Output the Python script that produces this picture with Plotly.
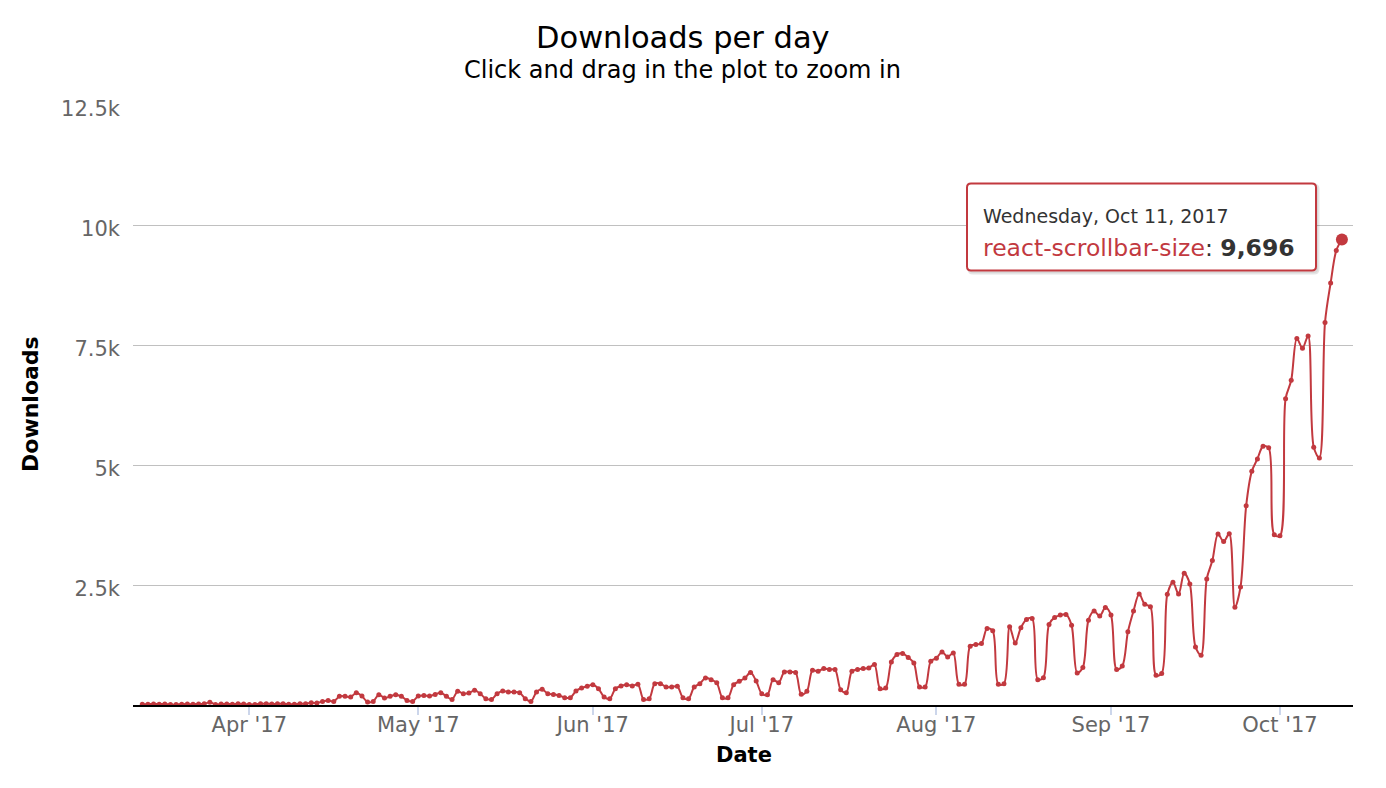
import pandas as pd
import plotly.graph_objects as go

# ---------------- data ----------------
start_date = "2017-03-13"
downloads = [
    15, 18, 20, 17, 22, 10, 8, 18, 20, 16, 22, 25, 55, 12, 20, 22, 18, 25, 20, 10,
    12, 25, 28, 20, 24, 26, 14, 15, 25,
    25, 48, 40, 75, 96, 75,
    180, 180, 165, 257, 186, 61, 75,
    215, 144, 180, 215, 180, 96, 75,
    186, 200, 186, 221, 257, 180, 117,
    284, 236, 250, 305, 236, 131, 117,
    236, 291, 270, 270, 257, 131, 75,
    270, 326, 236, 221, 200, 152, 152,
    291, 354, 389, 424, 340, 165, 131,
    340, 396, 424, 396, 430, 117, 131,
    445, 445, 375, 375, 389, 152, 131,
    375, 445, 565, 528, 462, 152, 152,
    424, 493, 563, 675, 500, 236, 215,
    528, 466, 688, 688, 675, 222, 284,
    723, 702, 759, 738, 738, 320, 257,
    702, 738, 759, 772, 842, 340, 354,
    897, 1051, 1072, 989, 876, 375, 375,
    911, 975, 1106, 1001, 1085, 430, 430,
    1225, 1260, 1281, 1595, 1545, 430, 445,
    1628, 1294, 1608, 1783, 1804, 528, 570,
    1678, 1825, 1873, 1887, 1664, 667, 780,
    1768, 1957, 1852, 2030, 1873, 740, 810,
    1524, 1960, 2312, 2097, 2047, 619, 654,
    2305, 2556, 2312, 2744, 2521, 1210, 1037,
    2625, 3008, 3560, 3405, 3566, 2034, 2460,
    4151, 4868, 5127, 5391, 5357, 3545, 3524,
    6381, 6764, 7636, 7433, 7690, 5370, 5148,
    7970, 8792, 9467, 9696,
]
dates = pd.date_range(start_date, periods=len(downloads), freq="D")

x_tick_vals = ["2017-04-01", "2017-05-01", "2017-06-01", "2017-07-01",
               "2017-08-01", "2017-09-01", "2017-10-01"]
x_tick_text = ["Apr '17", "May '17", "Jun '17", "Jul '17", "Aug '17", "Sep '17", "Oct '17"]
y_tick_vals = [2500, 5000, 7500, 10000, 12500]
y_tick_text = ["2.5k", "5k", "7.5k", "10k", "12.5k"]

series_name = "react-scrollbar-size"
tooltip_date = "Wednesday, Oct 11, 2017"

# ---------------- style ----------------
RED = "#c2393f"
FONT = "DejaVu Sans"
W, H = 1386, 788
ML, MR, MT, MB = 133, 33, 105, 83


def px(x):
    return (x - ML) / (W - ML - MR)


def py(y):
    return (H - MB - y) / (H - MT - MB)


fig = go.Figure()
fig.add_trace(go.Scatter(
    x=dates, y=downloads, mode="lines+markers", name=series_name,
    line=dict(color=RED, width=2, shape="spline", smoothing=0.9),
    marker=dict(color=RED, size=5),
    showlegend=False,
))
fig.add_trace(go.Scatter(
    x=[dates[-1]], y=[downloads[-1]], mode="markers",
    marker=dict(color=RED, size=12), showlegend=False, hoverinfo="skip",
))


def rounded_path(x0, y0, x1, y1, r):
    pts = [
        f"M {px(x0 + r)} {py(y0)}",
        f"L {px(x1 - r)} {py(y0)}",
        f"Q {px(x1)} {py(y0)} {px(x1)} {py(y0 + r)}",
        f"L {px(x1)} {py(y1 - r)}",
        f"Q {px(x1)} {py(y1)} {px(x1 - r)} {py(y1)}",
        f"L {px(x0 + r)} {py(y1)}",
        f"Q {px(x0)} {py(y1)} {px(x0)} {py(y1 - r)}",
        f"L {px(x0)} {py(y0 + r)}",
        f"Q {px(x0)} {py(y0)} {px(x0 + r)} {py(y0)}",
        "Z",
    ]
    return " ".join(pts)


shapes = [
    dict(type="path", xref="paper", yref="paper",
         path=rounded_path(969, 185, 1318, 273, 4),
         line=dict(color="rgba(0,0,0,0.10)", width=3), fillcolor="rgba(0,0,0,0.06)"),
    dict(type="path", xref="paper", yref="paper",
         path=rounded_path(967, 183.5, 1316, 270.5, 4),
         line=dict(color=RED, width=2), fillcolor="white"),
]

annotations = [
    dict(text="Downloads per day", x=px(683), y=py(37), xref="paper", yref="paper",
         showarrow=False, xanchor="center", yanchor="middle",
         font=dict(family=FONT, size=30.5, color="#000")),
    dict(text="Click and drag in the plot to zoom in", x=px(682), y=py(70),
         xref="paper", yref="paper", showarrow=False, xanchor="center", yanchor="middle",
         font=dict(family=FONT, size=24, color="#000")),
    dict(text="Downloads", x=px(30), y=py(404), xref="paper", yref="paper",
         showarrow=False, textangle=-90, xanchor="center", yanchor="middle",
         font=dict(family=FONT, size=22, color="#000", weight="bold")),
    dict(text="Date", x=px(744), y=py(755), xref="paper", yref="paper",
         showarrow=False, xanchor="center", yanchor="middle",
         font=dict(family=FONT, size=21, color="#000", weight="bold")),
    dict(text=tooltip_date, x=px(981), y=py(216), xref="paper", yref="paper",
         showarrow=False, xanchor="left", yanchor="middle",
         font=dict(family=FONT, size=19, color="#333")),
    dict(text=f'<span style="color:{RED}">{series_name}</span>: <b>{downloads[-1]:,}</b>',
         x=px(981), y=py(248), xref="paper", yref="paper",
         showarrow=False, xanchor="left", yanchor="middle",
         font=dict(family=FONT, size=23.5, color="#333")),
]

fig.update_layout(
    width=W, height=H, autosize=False,
    margin=dict(l=ML, r=MR, t=MT, b=MB),
    paper_bgcolor="white", plot_bgcolor="white",
    shapes=shapes, annotations=annotations,
    font=dict(family=FONT),
    xaxis=dict(
        range=["2017-03-11 08:24", "2017-10-13 23:17"],
        tickvals=x_tick_vals, ticktext=x_tick_text,
        showgrid=False, zeroline=False,
        showline=True, linecolor="#000", linewidth=2,
        ticks="outside", ticklen=8, tickwidth=1.5, tickcolor="#ccd6eb",
        ticklabelstandoff=-8,
        tickfont=dict(family=FONT, size=21, color="#666"),
    ),
    yaxis=dict(
        range=[0, 12500],
        tickvals=y_tick_vals, ticktext=y_tick_text,
        showgrid=True, gridcolor="#c0c0c0", gridwidth=1,
        zeroline=False, showline=False, ticks="",
        ticklabelstandoff=12, ticklabelshift=4,
        tickfont=dict(family=FONT, size=21, color="#666"),
    ),
)

fig.write_html("out.html")
